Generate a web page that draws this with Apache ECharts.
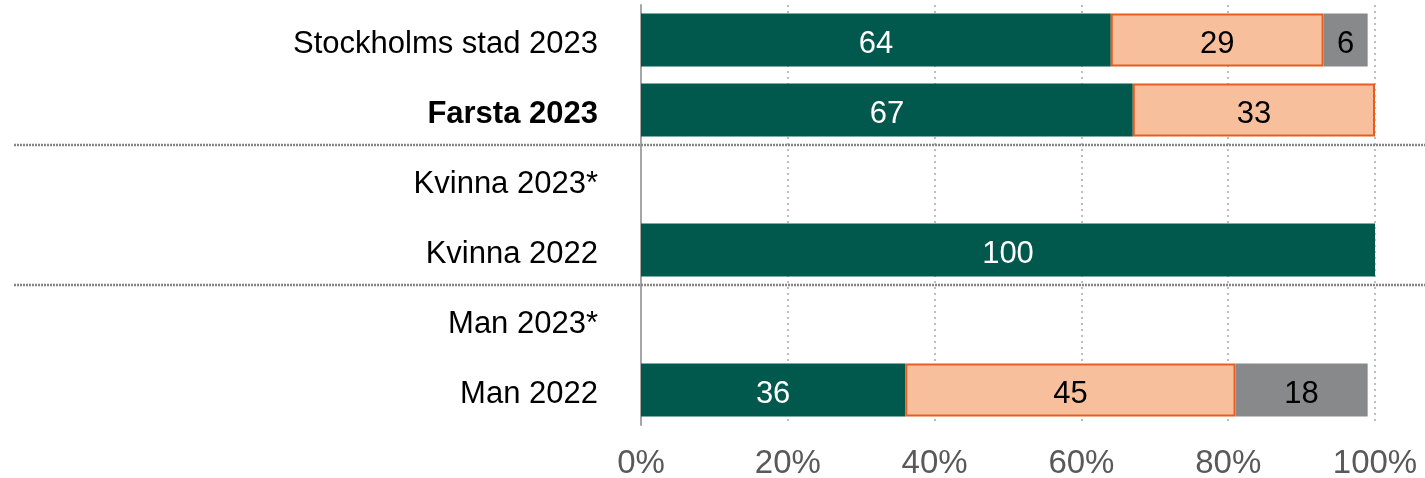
<!DOCTYPE html>
<html>
<head>
<meta charset="utf-8">
<script src="https://cdn.jsdelivr.net/npm/echarts@6/dist/echarts.min.js"></script>
<style>
  html, body { margin: 0; padding: 0; background: #fff; }
  #chart { width: 1425px; height: 478px; }
</style>
</head>
<body>
<div id="chart"></div>
<script>
// Row labels, top to bottom
const categories = ['Stockholms stad 2023', 'Farsta 2023', 'Kvinna 2023*', 'Kvinna 2022', 'Man 2023*', 'Man 2022'];
// Shares in percent per row (null = no answers)
const greenValues = [64, 67, null, 100, null, 36];
const peachValues = [29, 33, null, null, null, 45];
const greyValues  = [6, null, null, null, null, 18];
// Percent axis ticks
const xTicks = [0, 20, 40, 60, 80, 100];
// Rows after which a group separator is drawn
const groupBreaks = ['Farsta 2023', 'Kvinna 2022'];
const boldRow = 'Farsta 2023';

const FONT = '"Liberation Sans", Arial, sans-serif';

const chart = echarts.init(document.getElementById('chart'), null, { renderer: 'canvas' });

function barSeries(name, data, color, labelColor, border) {
  return {
    name: name,
    type: 'bar',
    stack: 'total',
    data: data,
    barWidth: '76%',
    itemStyle: {
      color: color,
      borderColor: border || color,
      borderWidth: border ? 2 : 0
    },
    label: {
      show: true,
      position: 'inside',
      offset: [0, 4],
      color: labelColor,
      fontFamily: FONT,
      fontSize: 31,
      formatter: p => p.value == null ? '' : String(p.value)
    },
    emphasis: { disabled: true },
    animation: false
  };
}

chart.setOption({
  animation: false,
  grid: { left: 641, right: 50, top: 5, bottom: 53, containLabel: false, outerBoundsMode: 'none' },
  xAxis: {
    type: 'value',
    min: xTicks[0],
    max: xTicks[xTicks.length - 1],
    interval: xTicks[1] - xTicks[0],
    axisLine: { show: false },
    axisTick: { show: false },
    axisLabel: {
      formatter: v => v + '%',
      color: '#595959',
      fontFamily: FONT,
      fontSize: 33,
      margin: 22
    },
    splitLine: {
      show: true,
      lineStyle: { color: '#bdbdbd', width: 2, type: [2, 4] }
    }
  },
  yAxis: {
    type: 'category',
    data: categories,
    inverse: true,
    axisLine: { show: true, lineStyle: { color: '#a6a6a6', width: 2 } },
    axisTick: { show: false },
    splitLine: { show: false },
    axisLabel: {
      color: '#000',
      fontFamily: FONT,
      fontSize: 31,
      margin: 43,
      padding: [8, 0, 0, 0],
      formatter: v => v === boldRow ? '{b|' + v + '}' : v,
      rich: { b: { fontWeight: 'bold', fontFamily: FONT, fontSize: 31, color: '#000' } }
    }
  },
  series: [
    barSeries('green', greenValues, '#00594c', '#ffffff'),
    barSeries('peach', peachValues, '#f8bf9c', '#000000', '#e85d1e'),
    barSeries('grey', greyValues, '#87898b', '#000000')
  ]
});

// Group separators between row blocks, spanning the label area and plot
function drawSeparators() {
  const elements = groupBreaks.map((name, i) => {
    const idx = categories.indexOf(name);
    const a = chart.convertToPixel({ yAxisIndex: 0 }, categories[idx]);
    const b = chart.convertToPixel({ yAxisIndex: 0 }, categories[idx + 1]);
    const y = Math.round((a + b) / 2);
    return {
      type: 'line',
      id: 'sep' + i,
      z: 10,
      shape: { x1: 14, y1: y, x2: 1425, y2: y },
      style: { stroke: '#858585', lineWidth: 2.5, lineDash: [2, 1] },
      silent: true
    };
  });
  chart.setOption({ graphic: elements });
}
drawSeparators();
</script>
</body>
</html>
